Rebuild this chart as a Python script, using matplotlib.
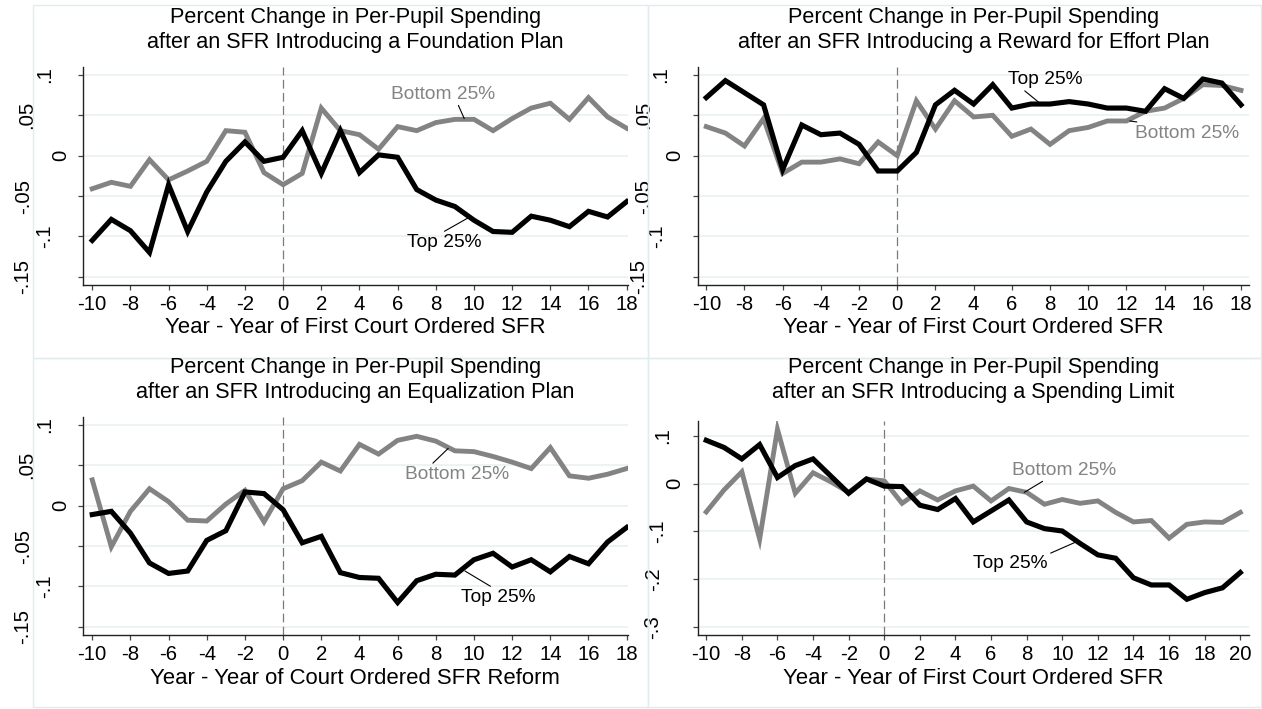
import matplotlib
matplotlib.use("Agg")
import matplotlib.pyplot as plt
from matplotlib.transforms import blended_transform_factory
from matplotlib.patches import Rectangle

plt.rcParams['font.family'] = ['Liberation Sans', 'DejaVu Sans']
plt.rcParams['axes.unicode_minus'] = False

# ---------------- data ----------------
years_a = list(range(-10, 19))
years_b = list(range(-10, 21))

foundation_bottom = [-0.041, -0.033, -0.038, -0.005, -0.030, -0.019, -0.007, 0.031, 0.029, -0.021,
                     -0.036, -0.022, 0.059, 0.031, 0.026, 0.008, 0.036, 0.031, 0.041, 0.045,
                     0.045, 0.031, 0.046, 0.059, 0.065, 0.045, 0.072, 0.048, 0.034]
foundation_top = [-0.105, -0.079, -0.093, -0.120, -0.036, -0.094, -0.045, -0.007, 0.017, -0.007,
                  -0.002, 0.031, -0.022, 0.031, -0.021, 0.001, -0.002, -0.042, -0.055, -0.063,
                  -0.080, -0.094, -0.095, -0.075, -0.080, -0.088, -0.069, -0.076, -0.057]

effort_top = [0.072, 0.093, 0.078, 0.063, -0.017, 0.038, 0.026, 0.028, 0.014, -0.019,
              -0.019, 0.004, 0.063, 0.081, 0.064, 0.088, 0.059, 0.064, 0.064, 0.067,
              0.064, 0.059, 0.059, 0.055, 0.083, 0.071, 0.095, 0.090, 0.063]
effort_bottom = [0.036, 0.028, 0.012, 0.046, -0.022, -0.008, -0.008, -0.004, -0.010, 0.017,
                 0.000, 0.068, 0.033, 0.068, 0.048, 0.050, 0.024, 0.033, 0.014, 0.031,
                 0.035, 0.043, 0.043, 0.055, 0.059, 0.071, 0.088, 0.087, 0.081]

equal_bottom = [0.032, -0.051, -0.007, 0.021, 0.005, -0.018, -0.019, 0.002, 0.019, -0.020,
                0.021, 0.031, 0.054, 0.043, 0.076, 0.064, 0.081, 0.086, 0.080, 0.068,
                0.067, 0.061, 0.054, 0.046, 0.072, 0.037, 0.034, 0.039, 0.046]
equal_top = [-0.011, -0.007, -0.034, -0.071, -0.084, -0.081, -0.043, -0.031, 0.017, 0.015,
             -0.005, -0.046, -0.038, -0.083, -0.089, -0.090, -0.120, -0.093, -0.085, -0.086,
             -0.067, -0.059, -0.076, -0.067, -0.082, -0.063, -0.072, -0.045, -0.027]

limit_top = [0.091, 0.076, 0.052, 0.082, 0.013, 0.038, 0.052, 0.016, -0.020, 0.010,
             -0.005, -0.006, -0.045, -0.054, -0.031, -0.080, -0.057, -0.034, -0.080, -0.094,
             -0.099, -0.125, -0.149, -0.156, -0.197, -0.212, -0.212, -0.242, -0.228, -0.218, -0.186]
limit_bottom = [-0.059, -0.013, 0.025, -0.116, 0.114, -0.020, 0.023, 0.004, -0.018, 0.010,
                0.006, -0.041, -0.015, -0.034, -0.015, -0.005, -0.036, -0.010, -0.018, -0.043,
                -0.033, -0.041, -0.036, -0.060, -0.080, -0.077, -0.114, -0.085, -0.080, -0.081, -0.060]

titles = ["Percent Change in Per-Pupil Spending\nafter an SFR Introducing a Foundation Plan",
          "Percent Change in Per-Pupil Spending\nafter an SFR Introducing a Reward for Effort Plan",
          "Percent Change in Per-Pupil Spending\nafter an SFR Introducing an Equalization Plan",
          "Percent Change in Per-Pupil Spending\nafter an SFR Introducing a Spending Limit"]
xlabels = ["Year - Year of First Court Ordered SFR",
           "Year - Year of First Court Ordered SFR",
           "Year - Year of Court Ordered SFR Reform",
           "Year - Year of First Court Ordered SFR"]

yticks_std = [0.1, 0.05, 0, -0.05, -0.1, -0.15]
ytick_labels_std = [".1", ".05", "0", "-.05", "-.1", "-.15"]
yticks_lim = [0.1, 0, -0.1, -0.2, -0.3]
ytick_labels_lim = [".1", "0", "-.1", "-.2", "-.3"]
xticks_a = list(range(-10, 19, 2))
xticks_b = list(range(-10, 21, 2))

top_label = "Top 25%"
bottom_label = "Bottom 25%"

# ---------------- style / layout ----------------
W, H = 1262, 709
GRAY = '#838383'
GRID = '#e8f0f2'
FRAME = '#e2ecef'
FS_TITLE = 15.6
FS_TICK = 14.7
FS_LAB = 15.9
FS_ANN = 13.8

fig = plt.figure(figsize=(W / 100, H / 100), dpi=100)
fig.patch.set_facecolor('white')

def fx(px):
    return px / W

def fy(py):
    return 1 - py / H

# pale frames around each sub-graph
for (x0, y0, x1, y1) in [(33, 5, 648, 358), (648, 5, 1261, 358), (33, 358, 648, 707), (648, 358, 1261, 707)]:
    fig.patches.append(Rectangle((fx(x0), fy(y1)), fx(x1) - fx(x0), fy(y0) - fy(y1),
                                 transform=fig.transFigure, fill=False, edgecolor=FRAME, lw=1.0))

panels = [
    dict(box=(82.7, 67, 628, 285), xlim=(-10.50, 18.07), ylim=(-0.1603, 0.1099),
         years=years_a, top=foundation_top, bottom=foundation_bottom, xt=xticks_a,
         yt=yticks_std, ytl=ytick_labels_std, yoff=[-38, -56, -21.5, -59, -38.5, -60],
         title_y=30, xlab_y=328,
         ann_bottom=((8.39, 0.0763), (9.49, 0.046), (0.63, 0.05)),
         ann_top=((8.43, -0.1077), (9.7, -0.077), (0.42, 0.95))),
    dict(box=(697.7, 67, 1249, 285), xlim=(-10.45, 18.42), ylim=(-0.1603, 0.1099),
         years=years_a, top=effort_top, bottom=effort_bottom, xt=xticks_a,
         yt=yticks_std, ytl=ytick_labels_std, yoff=[-37, -54, -22.5, -54, -41, -59.5],
         title_y=30, xlab_y=328,
         ann_bottom=((15.2, 0.0278), (12.18, 0.043), (0.26, 0.95)),
         ann_top=((7.77, 0.0943), (7.47, 0.065), (0.16, 0.05))),
    dict(box=(82.7, 416.7, 628, 635), xlim=(-10.50, 18.07), ylim=(-0.1603, 0.1103),
         years=years_a, top=equal_top, bottom=equal_bottom, xt=xticks_a,
         yt=yticks_std, ytl=ytick_labels_std, yoff=[-38, -56, -21.5, -59, -38.5, -60],
         title_y=380, xlab_y=678,
         ann_bottom=((9.13, 0.0387), (8.65, 0.071), (0.22, 0.9)),
         ann_top=((11.26, -0.1139), (9.53, -0.081), (0.48, 0.95))),
    dict(box=(697.7, 421, 1249, 635), xlim=(-10.48, 20.49), ylim=(-0.3168, 0.1314),
         years=years_b, top=limit_top, bottom=limit_bottom, xt=xticks_b,
         yt=yticks_lim, ytl=ytick_labels_lim, yoff=[-35, -22.5, -40, -44.5, -45.5],
         title_y=380, xlab_y=678,
         ann_bottom=((10.11, 0.0287), (7.87, -0.018), (0.35, 0.05)),
         ann_top=((7.10, -0.168), (10.77, -0.122), (0.94, 0.95))),
]

for i, p in enumerate(panels):
    x0, y0, x1, y1 = p['box']
    ax = fig.add_axes([fx(x0), fy(y1), fx(x1) - fx(x0), fy(y0) - fy(y1)])
    ax.set_xlim(*p['xlim'])
    ax.set_ylim(*p['ylim'])
    ax.set_facecolor('white')
    for s in ['top', 'right']:
        ax.spines[s].set_visible(False)
    for s in ['left', 'bottom']:
        ax.spines[s].set_linewidth(1.0)
        ax.spines[s].set_color('#222222')

    # grid
    for yv in p['yt']:
        ax.axhline(yv, color=GRID, lw=1.1, zorder=0)
    # vertical dashed reference line
    ax.axvline(0, color='#7a7a7a', lw=0.9, dashes=(7, 3.5), zorder=1)

    ax.plot(p['years'], p['bottom'], color=GRAY, lw=3.5, solid_joinstyle='miter', zorder=3)
    ax.plot(p['years'], p['top'], color='black', lw=3.7, solid_joinstyle='miter', zorder=4)

    ax.set_xticks(p['xt'])
    ax.set_xticklabels([str(t) for t in p['xt']], fontsize=FS_TICK)
    ax.set_yticks(p['yt'])
    ax.set_yticklabels([])
    ax.tick_params(axis='both', direction='out', length=3.8, width=0.9, color='#444444')
    ax.tick_params(axis='x', pad=3.2)

    # staggered rotated y tick labels (as drawn in the source)
    for yv, lab, off in zip(p['yt'], p['ytl'], p['yoff']):
        tr = blended_transform_factory(fig.transFigure, ax.transData)
        ax.text(fx(x0 + off), yv, lab, transform=tr, rotation=90, ha='center', va='center',
                fontsize=FS_TICK, clip_on=False)

    # titles and axis labels
    fig.text(fx((x0 + x1) / 2), fy(p['title_y']), titles[i], ha='center', va='center',
             fontsize=FS_TITLE, linespacing=1.2)
    fig.text(fx((x0 + x1) / 2), fy(p['xlab_y']), xlabels[i], ha='center', va='center',
             fontsize=FS_LAB)

    # line labels with leader lines
    (tb, eb, rb) = p['ann_bottom']
    ax.annotate(bottom_label, xy=eb, xytext=tb, ha='center', va='center', color=GRAY,
                fontsize=FS_ANN, zorder=6,
                arrowprops=dict(arrowstyle='-', lw=0.8, color='black', relpos=rb,
                                shrinkA=0, shrinkB=0))
    (tt, et, rt) = p['ann_top']
    ax.annotate(top_label, xy=et, xytext=tt, ha='center', va='center', color='black',
                fontsize=FS_ANN, zorder=6,
                arrowprops=dict(arrowstyle='-', lw=0.8, color='black', relpos=rt,
                                shrinkA=0, shrinkB=0))

fig.savefig('out.png', dpi=100, facecolor='white')
